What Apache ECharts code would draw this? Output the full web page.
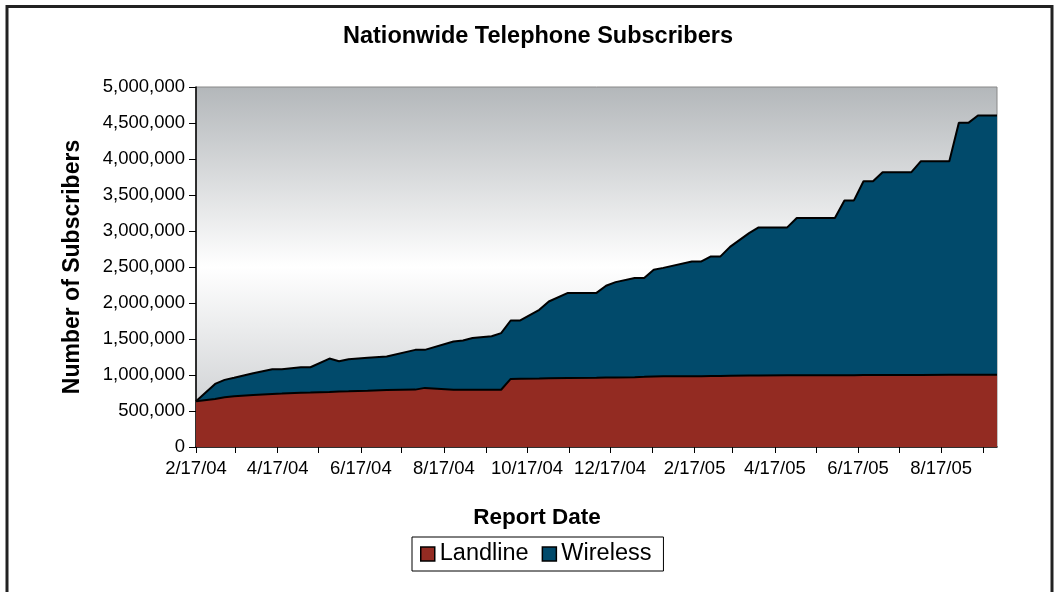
<!DOCTYPE html>
<html><head><meta charset="utf-8">
<script src="https://cdn.jsdelivr.net/npm/echarts@6/dist/echarts.min.js"></script>
<style>html,body{margin:0;padding:0;background:#fff}#c{width:1063px;height:592px}</style>
</head><body><div id="c"></div>
<script>
const reportDates = ['2004-02-17','2004-03-02','2004-03-09','2004-03-16','2004-03-30','2004-04-13','2004-04-20','2004-05-04','2004-05-11','2004-05-25',
 '2004-06-01','2004-06-08','2004-06-22','2004-07-06','2004-07-27','2004-08-03','2004-08-24','2004-08-31','2004-09-07','2004-09-21',
 '2004-09-28','2004-10-05','2004-10-12','2004-10-26','2004-11-02','2004-11-16','2004-12-07','2004-12-14','2004-12-21','2005-01-04',
 '2005-01-11','2005-01-18','2005-01-25','2005-02-15','2005-02-22','2005-03-01','2005-03-08','2005-03-15','2005-03-29','2005-04-05',
 '2005-04-26','2005-05-03','2005-05-31','2005-06-07','2005-06-14','2005-06-21','2005-06-28','2005-07-05','2005-07-26','2005-08-02',
 '2005-08-23','2005-08-30','2005-09-06','2005-09-13','2005-09-27'];
const landline = [636000,668000,691000,705000,722000,737000,742000,755000,758000,765000,
 772000,775000,782000,790000,797000,821000,795000,795000,795000,795000,
 795000,945000,948000,952000,955000,958000,962000,964000,966000,970000,
 974000,980000,981000,983000,984000,985000,986000,988000,992000,993000,
 995000,995000,997000,998000,998000,999000,999000,1000000,1001000,1001000,
 1002000,1002000,1003000,1003000,1004000];
const wireless = [0,208000,241000,257000,303000,344000,339000,353000,350000,463000,
 420000,445000,456000,466000,552000,528000,670000,683000,720000,743000,
 786000,812000,809000,953000,1066000,1182000,1178000,1275000,1324000,1376000,
 1372000,1482000,1507000,1594000,1593000,1662000,1661000,1792000,1978000,2057000,
 2055000,2185000,2183000,2427000,2427000,2691000,2691000,2815000,2814000,2967000,
 2966000,3500000,3499000,3601000,3600000];
const xTickDates = ['2004-02-17','2004-03-17','2004-04-17','2004-05-17','2004-06-17','2004-07-17','2004-08-17','2004-09-17','2004-10-17','2004-11-17',
 '2004-12-17','2005-01-17','2005-02-17','2005-03-17','2005-04-17','2005-05-17','2005-06-17','2005-07-17','2005-08-17','2005-09-17'];
const xLabelDates = ['2004-02-17','2004-04-17','2004-06-17','2004-08-17','2004-10-17','2004-12-17','2005-02-17','2005-04-17','2005-06-17','2005-08-17'];
const axisStart = '2004-02-17', axisEnd = '2005-09-27';

function ts(s){const p=s.split('-').map(Number);return Date.UTC(p[0],p[1]-1,p[2]);}
const FONT = "'Liberation Sans', Arial, sans-serif";
const RED = '#932b22', BLUE = '#014a6b';
// stacked top edge = landline + wireless
const landlinePts = reportDates.map((d,i)=>[ts(d), landline[i]]);
const stackedPts = reportDates.map((d,i)=>[ts(d), landline[i] + wireless[i]]);

const chart = echarts.init(document.getElementById('c'), null, {renderer:'canvas'});
chart.setOption({
  animation:false,
  backgroundColor:'#fff',
  textStyle:{fontFamily:FONT},
  graphic:[
    {type:'rect', silent:true, z:100, shape:{x:7,y:6.5,width:1045,height:700}, style:{fill:'none',stroke:'#222',lineWidth:3}},
    {type:'text', silent:true, x:538, y:37, style:{text:'Nationwide Telephone Subscribers', font:'bold 23.5px '+FONT, fill:'#000', textAlign:'center', textVerticalAlign:'middle'}},
    {type:'text', silent:true, x:537, y:518, style:{text:'Report Date', font:'bold 22.5px '+FONT, fill:'#000', textAlign:'center', textVerticalAlign:'middle'}}
  ],
  grid:{left:196, right:66, top:87, bottom:145, show:true,
    backgroundColor:new echarts.graphic.LinearGradient(0,0,0,1,[{offset:0,color:'#b3b7ba'},{offset:0.5,color:'#ffffff'},{offset:1,color:'#c3c6c9'}]),
    borderColor:'#888', borderWidth:1},
  legend:{left:412, top:537, orient:'horizontal', icon:'rect', itemWidth:14, itemHeight:14, itemGap:13,
    padding:[5,12,5,8], borderColor:'#000', borderWidth:1, backgroundColor:'#fff',
    textStyle:{fontSize:23.5, color:'#000', fontFamily:FONT},
    data:[{name:'Landline', itemStyle:{color:RED, borderColor:'#000', borderWidth:1.5}},
          {name:'Wireless', itemStyle:{color:BLUE, borderColor:'#000', borderWidth:1.5}}]},
  xAxis:{type:'value', min:ts(axisStart), max:ts(axisEnd), scale:true,
    axisLine:{show:true, onZero:false, lineStyle:{color:'#000', width:1.5}},
    axisTick:{show:true, length:6, lineStyle:{color:'#000', width:1}, customValues:xTickDates.map(ts)},
    axisLabel:{color:'#000', fontSize:18.5, margin:12, fontFamily:FONT, customValues:xLabelDates.map(ts), hideOverlap:false,
      formatter:function(v){const d=new Date(v);return (d.getUTCMonth()+1)+'/'+d.getUTCDate()+'/'+String(d.getUTCFullYear()).slice(2);}},
    splitLine:{show:false}},
  yAxis:{type:'value', min:0, max:5000000, interval:500000,
    name:'Number of Subscribers', nameLocation:'middle', nameGap:112,
    nameTextStyle:{fontSize:23, fontWeight:'bold', color:'#000', fontFamily:FONT},
    axisLine:{show:true, lineStyle:{color:'#000', width:1.5}},
    axisTick:{show:true, length:7, lineStyle:{color:'#000', width:1}},
    axisLabel:{color:'#000', fontSize:18.5, margin:11, fontFamily:FONT, formatter:function(v){return v.toLocaleString('en-US');}},
    splitLine:{show:false}},
  series:[
    {name:'Landline', type:'line', z:3, symbol:'none', color:RED,
      data:landlinePts,
      lineStyle:{color:'#000', width:2}, areaStyle:{color:RED, opacity:1}, itemStyle:{color:RED}},
    {name:'Wireless', type:'line', z:2, symbol:'none', color:BLUE,
      data:stackedPts,
      lineStyle:{color:'#000', width:2}, areaStyle:{color:BLUE, opacity:1}, itemStyle:{color:BLUE}}
  ]
});
</script></body></html>
